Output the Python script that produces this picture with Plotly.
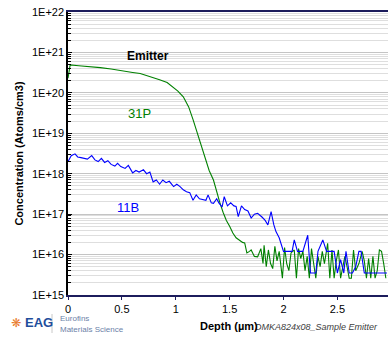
import plotly.graph_objects as go

# ---- data ----
p_depth = [0.00, 0.02, 0.10, 0.20, 0.30, 0.40, 0.50, 0.60, 0.67, 0.75, 0.85, 0.92, 0.97, 1.02, 1.07,
           1.12, 1.16, 1.19, 1.22, 1.25, 1.28, 1.31, 1.35, 1.38, 1.41, 1.44, 1.47, 1.50, 1.53, 1.56,
           1.59, 1.62, 1.64, 1.66, 1.685, 1.70, 1.73, 1.76, 1.79, 1.81, 1.82, 1.84, 1.86, 1.88, 1.90,
           1.92, 1.94, 1.96, 1.99, 2.01, 2.03, 2.05, 2.07, 2.10, 2.12, 2.14, 2.16, 2.18, 2.20, 2.22,
           2.24, 2.26, 2.28, 2.30, 2.32, 2.34, 2.36, 2.38, 2.41, 2.43, 2.45, 2.47, 2.49, 2.51, 2.53,
           2.55, 2.57, 2.59, 2.61, 2.63, 2.65, 2.67, 2.70, 2.73, 2.75, 2.77, 2.79, 2.81, 2.83, 2.85,
           2.87, 2.89, 2.91, 2.93, 2.95]
p_conc = [2.3e20, 4.9e20, 4.7e20, 4.5e20, 4.2e20, 3.9e20, 3.6e20, 3.2e20, 3.0e20, 2.6e20, 2.1e20,
          1.8e20, 1.4e20, 1.1e20, 8.0e19, 4.5e19, 2.2e19, 1.2e19, 7.0e18, 4.0e18, 2.2e18, 1.2e18,
          7.0e17, 3.5e17, 1.9e17, 1.1e17, 7.0e16, 5.0e16, 3.4e16, 2.6e16, 2.3e16, 2.0e16, 1.95e16,
          1.1e16, 1.2e16, 1.3e16, 9.0e15, 8.8e15, 1.4e16, 6.0e15, 1.7e16, 5.0e15, 1.3e16, 6.0e15,
          4.5e15, 1.6e16, 7.0e15, 1.2e16, 2.6e15, 1.5e16, 6.0e15, 4.0e15, 1.1e16, 1.3e16, 2.6e15,
          1.4e16, 8.0e15, 1.2e16, 4.0e15, 9.0e15, 2.6e15, 1.4e16, 6.0e15, 2.6e15, 9.0e15, 5.0e15,
          1.2e16, 6.0e15, 1.9e16, 2.6e15, 1.3e16, 2.6e15, 7.0e15, 1.3e16, 2.6e15, 5.0e15, 9.0e15,
          5.0e15, 2.6e15, 2.6e15, 1.3e16, 4.0e15, 6.0e15, 1.2e16, 7.0e15, 2.6e15, 8.0e15, 2.6e15,
          9.0e15, 2.6e15, 4.0e15, 1.3e16, 1.2e16, 6.0e15, 2.6e15]

b_depth = [0.00, 0.03, 0.065, 0.09, 0.12, 0.15, 0.18, 0.22, 0.25, 0.28, 0.31, 0.34, 0.37, 0.40,
           0.435, 0.46, 0.49, 0.53, 0.56, 0.60, 0.63, 0.66, 0.70, 0.73, 0.76, 0.79, 0.82, 0.85, 0.88,
           0.91, 0.94, 0.98, 1.01, 1.04, 1.07, 1.10, 1.13, 1.16, 1.19, 1.22, 1.25, 1.28, 1.30, 1.33,
           1.35, 1.38, 1.40, 1.43, 1.45, 1.48, 1.51, 1.54, 1.56, 1.58, 1.61, 1.64, 1.67, 1.70, 1.73,
           1.76, 1.80, 1.83, 1.855, 1.885, 1.91, 1.93, 1.96, 1.98, 2.00, 2.05, 2.08, 2.10, 2.13,
           2.18, 2.225, 2.25, 2.28, 2.30, 2.32, 2.365, 2.40, 2.44, 2.47, 2.50, 2.53, 2.56, 2.58,
           2.61, 2.64, 2.67, 2.70, 2.72, 2.75, 2.96]
b_conc = [2.0e18, 2.8e18, 3.1e18, 2.6e18, 2.5e18, 2.4e18, 2.3e18, 2.8e18, 2.2e18, 2.0e18, 2.4e18,
          1.9e18, 2.1e18, 1.7e18, 1.55e18, 1.8e18, 1.5e18, 1.35e18, 1.6e18, 1.05e18, 1.2e18, 1.1e18,
          1.25e18, 1.0e18, 1.1e18, 6.3e17, 7.0e17, 5.5e17, 7.0e17, 6.0e17, 6.5e17, 4.8e17, 5.5e17,
          4.8e17, 4.0e17, 3.6e17, 3.4e17, 2.2e17, 3.0e17, 2.4e17, 2.3e17, 2.2e17, 3.0e17, 1.9e17,
          1.85e17, 2.4e17, 1.9e17, 1.5e17, 2.7e17, 1.6e17, 1.9e17, 1.6e17, 1.55e17, 8.7e16, 1.6e17,
          1.3e17, 1.2e17, 8.0e16, 1.0e17, 1.05e17, 8.5e16, 7.0e16, 5.4e16, 1.15e17, 5.5e16, 3.7e16,
          2.6e16, 1.7e16, 1.2e16, 1.2e16, 1.2e16, 2.3e16, 1.2e16, 1.2e16, 3.0e16, 3.5e15, 3.5e15,
          3.5e15, 1.2e16, 2.3e16, 1.2e16, 1.2e16, 1.2e16, 3.5e15, 7.5e15, 3.5e15, 1.2e16, 3.5e15,
          3.5e15, 5.0e15, 1.2e16, 1.2e16, 3.5e15, 3.5e15]

x_ticks = [0, 0.5, 1, 1.5, 2, 2.5]
x_ticktext = ["0", "0.5", "1", "1.5", "2", "2.5"]
y_ticks = [1e15, 1e16, 1e17, 1e18, 1e19, 1e20, 1e21, 1e22]
y_ticktext = ["1E+15", "1E+16", "1E+17", "1E+18", "1E+19", "1E+20", "1E+21", "1E+22"]

fig = go.Figure()
fig.add_trace(go.Scatter(x=p_depth, y=p_conc, mode="lines", name="31P",
                         line=dict(color="#008000", width=1.1)))
fig.add_trace(go.Scatter(x=b_depth, y=b_conc, mode="lines", name="11B",
                         line=dict(color="#0000FF", width=1.1)))

font = "Liberation Sans, Arial, sans-serif"
fig.update_layout(
    width=388, height=341,
    margin=dict(l=68, r=0, t=12, b=46),
    paper_bgcolor="white", plot_bgcolor="white",
    showlegend=False,
    font=dict(family=font, size=11, color="black"),
    xaxis=dict(range=[0, 2.97], tickmode="array", tickvals=x_ticks, ticktext=x_ticktext,
               showgrid=False, zeroline=False, showline=True, linecolor="#1c1c5c", linewidth=1.5,
               mirror=True, ticks="outside", ticklen=3, tickcolor="#1c1c5c",
               tickfont=dict(size=11, family=font)),
    yaxis=dict(type="log", range=[15, 22], tickmode="array", tickvals=y_ticks, ticktext=y_ticktext,
               showgrid=True, gridcolor="#c4c4c4", gridwidth=1, zeroline=False,
               showline=True, linecolor="black", linewidth=1.5,
               ticks="inside", ticklen=4, tickcolor="black",
               tickfont=dict(size=11, family=font),
               minor=dict(dtick="D1", showgrid=True, gridcolor="#dedede", gridwidth=1,
                          ticks="inside", ticklen=3, tickcolor="black"),
               title=dict(text="<b>Concentration (Atoms/cm3)</b>", standoff=6,
                          font=dict(size=11, family=font))),
)

fig.add_annotation(x=0.74, y=20.92, xref="x", yref="y", text="<b>Emitter</b>", showarrow=False,
                   font=dict(size=12, color="black", family=font))
fig.add_annotation(x=0.66, y=19.50, xref="x", yref="y", text="31P", showarrow=False,
                   font=dict(size=13, color="#008000", family=font))
fig.add_annotation(x=0.56, y=17.17, xref="x", yref="y", text="11B", showarrow=False,
                   font=dict(size=13, color="#0000FF", family=font))

# bottom texts placed in paper coords derived from pixel positions
def px(xp):
    return (xp - 68) / 320.0

def py(yp):
    return (295 - yp) / 283.0

def note(x, y, text, size, color, anchor="left", fam=font):
    fig.add_annotation(x=px(x), y=py(y), xref="paper", yref="paper", xanchor=anchor,
                       yanchor="middle", text=text, showarrow=False,
                       font=dict(size=size, color=color, family=fam))

note(253, 327, "<i>DMKA824x08_Sample Emitter</i>", 9, "#404040")
note(198, 326, "<b>Depth (µm)</b>", 11, "black")
note(16, 323, "❋", 12, "#e8792a", anchor="center", fam="DejaVu Sans")
note(23, 322, "<b>EAG</b>", 13, "#1f4e9c")
note(58, 318, "Eurofins", 8, "#6b7fa8")
note(58, 329, "Materials Science", 8, "#6b7fa8")
fig.add_shape(type="line", xref="paper", yref="paper", x0=px(52), x1=px(52), y0=py(314), y1=py(333),
              line=dict(color="#c8c8c8", width=1))

fig.write_html("out.html")
